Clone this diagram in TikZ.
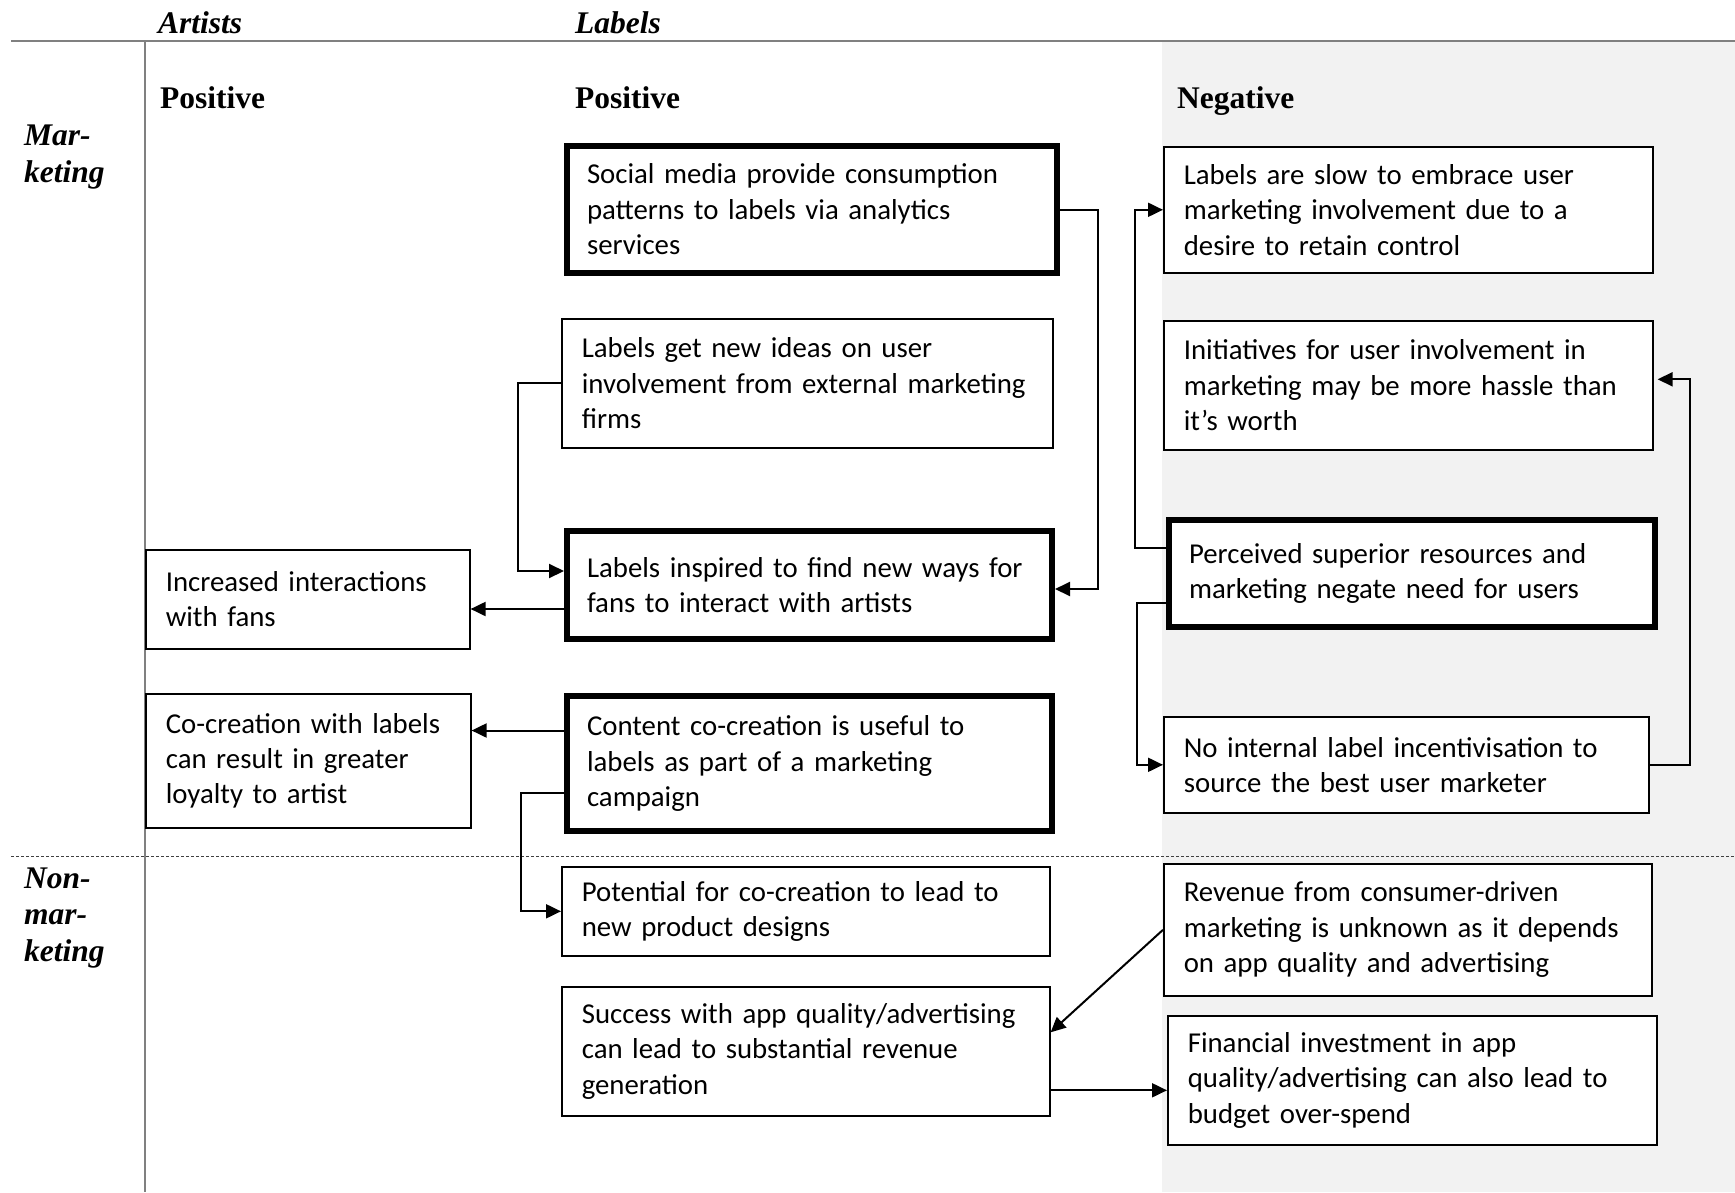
\documentclass[tikz,border=0pt]{standalone}
\usepackage{fontspec}
\setmainfont{Liberation Serif}
\newfontfamily\bodyfont{Carlito}
\usepackage{tikz}
\usetikzlibrary{arrows.meta}

\begin{document}
\begin{tikzpicture}[x=1pt,y=-1pt,
  box/.style={draw, line width=1.6pt, fill=white, anchor=north west, inner xsep=20pt, inner ysep=0pt,
    align=left, font=\bodyfont\fontsize{28.8}{35.4}\selectfont},
  keybox/.style={box, line width=6pt},
  link/.style={line width=2pt, -{Triangle[length=15pt,width=14pt]}},
  head/.style={anchor=base west, inner sep=0pt, font=\bfseries\fontsize{31.5}{36.5}\selectfont, align=left},
  rowhead/.style={head, font=\bfseries\itshape\fontsize{31.5}{36.5}\selectfont}]
\useasboundingbox (0,0) rectangle (1735,1192);
\fill[gray!10] (1162,41) rectangle (1735,1192);
\draw[gray, line width=2pt] (11,41) -- (1735,41);
\draw[gray, line width=1.5pt] (145,41) -- (145,1192);
\draw[black!75, line width=1pt, densely dashed] (11,856.5) -- (1735,856.5);

\node[rowhead] (artistsHead) at (158,33) {Artists};
\node[rowhead] (labelsHead) at (575,33) {Labels};
\node[head] (posArtists) at (160,108) {Positive};
\node[head] (posLabels) at (575,108) {Positive};
\node[head] (negLabels) at (1177,108) {Negative};
\node[rowhead] (marketing) at (24,182) {Mar-\\keting};
\node[rowhead] (nonMarketing) at (24,961) {Non-\\mar-\\keting};

\node[keybox, text width=450, minimum height=127] (social) at (564,143) {Social media provide consumption\\patterns to labels via analytics\\services};
\node[box, text width=451, minimum height=129] (ideas) at (561,318) {Labels get new ideas on user\\involvement from external marketing\\firms};
\node[keybox, text width=445, minimum height=108] (inspired) at (564,528) {Labels inspired to find new ways for\\fans to interact with artists};
\node[box, text width=284, minimum height=99] (increased) at (145,549) {Increased interactions\\with fans};
\node[box, text width=285, minimum height=134] (loyalty) at (145,693) {Co-creation with labels\\can result in greater\\loyalty to artist};
\node[keybox, text width=445, minimum height=135] (content) at (564,693) {Content co-creation is useful to\\labels as part of a marketing\\campaign};
\node[box, text width=448, minimum height=89] (designs) at (561,866) {Potential for co-creation to lead to\\new product designs};
\node[box, text width=448, minimum height=129] (success) at (561,986) {Success with app quality/advertising\\can lead to substantial revenue\\generation};
\node[box, text width=449, minimum height=126] (slow) at (1163,146) {Labels are slow to embrace user\\marketing involvement due to a\\desire to retain control};
\node[box, text width=449, minimum height=129] (hassle) at (1163,320) {Initiatives for user involvement in\\marketing may be more hassle than\\it’s worth};
\node[keybox, text width=446, minimum height=107] (resources) at (1166,517) {Perceived superior resources and\\marketing negate need for users};
\node[box, text width=445, minimum height=96] (incentive) at (1163,716) {No internal label incentivisation to\\source the best user marketer};
\node[box, text width=448, minimum height=132] (revenue) at (1163,863) {Revenue from consumer-driven\\marketing is unknown as it depends\\on app quality and advertising};
\node[box, text width=449, minimum height=129] (budget) at (1167,1015) {Financial investment in app\\quality/advertising can also lead to\\budget over-spend};

\coordinate (fansOut) at ([yshift=-24pt]inspired.west);
\coordinate (loyaltyOut) at ([yshift=33pt]content.west);
\coordinate (spendOut) at ([yshift=-39pt]success.east);

\draw[link] (social.east) -- ++(38,0) |- ([yshift=-4pt]inspired.east);
\draw[link] (ideas.west) -- ++(-43,0) |- ([yshift=14pt]inspired.west);
\draw[link] (fansOut) -- (fansOut -| increased.east);
\draw[link] (loyaltyOut) -- (loyaltyOut -| loyalty.east);
\draw[link] ([yshift=-29pt]content.west) -- ++(-43,0) |- (designs.west);
\draw[link] ([yshift=26pt]resources.west) -- ++(-31,0) |- (slow.west);
\draw[link] ([yshift=-29pt]resources.west) -- ++(-29,0) |- (incentive.west);
\draw[link, shorten >=4pt] (incentive.east) -- ++(40,0) |- ([yshift=6pt]hassle.east);
\draw[link] (revenue.west) -- ([yshift=19pt]success.east);
\draw[link] (spendOut) -- (spendOut -| budget.west);
\end{tikzpicture}
\end{document}
